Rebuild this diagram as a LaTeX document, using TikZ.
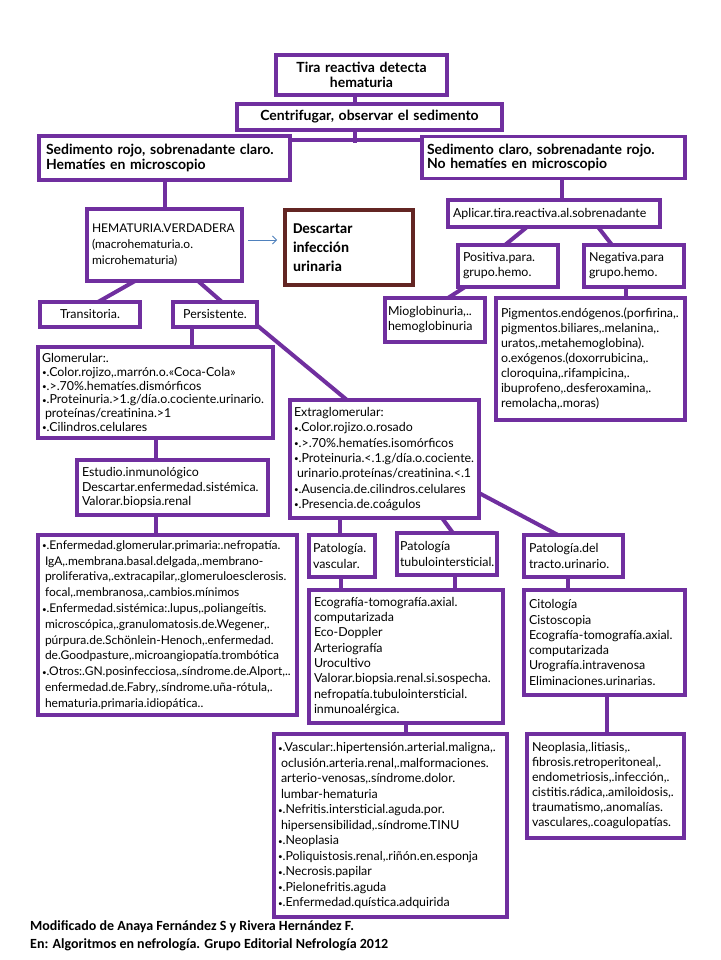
\documentclass[tikz,border=0pt]{standalone}
\usepackage{fontspec}
\setmainfont{Lato}
\newfontfamily\calib{Carlito}
\usetikzlibrary{backgrounds,arrows.meta}
\definecolor{pur}{HTML}{702F9F}
\definecolor{maroon}{HTML}{632523}
\definecolor{arrblue}{HTML}{4F81BD}
\newcommand\fs[1]{\fontsize{12.4}{#1}\selectfont}
\newcommand\bodyf{\fs{15.3}}
\newcommand\headf{\bfseries\fontsize{14}{14.5}\selectfont}
\newcommand\bul{{\fontsize{8}{8}\selectfont\raisebox{0.5pt}{•}}.}
\newcommand\ind{\hspace*{3pt}}
\tikzset{
  box/.style={draw=pur, line width=3.1pt, fill=white, inner sep=0pt, outer sep=0pt, font=\bodyf, align=left,
    execute at begin node={\hyphenpenalty=10000\exhyphenpenalty=10000\hbadness=10000\hfuzz=50pt}},
  hbox/.style={box, font=\headf},
  conn/.style={draw=pur, line width=4pt, shorten <=-3pt, shorten >=-3pt},
  arr/.style={draw=arrblue, line width=0.8pt, -{Straight Barb[length=4pt,width=8pt]}}
}
\begin{document}
\begin{tikzpicture}[x=1pt,y=-1pt]
\useasboundingbox (0,0) rectangle (720,960);

% top
\node[hbox, align=center, minimum width=171pt, minimum height=40pt, text width=165pt] (tira) at (361.5,75) {Tira reactiva detecta\\hematuria};
\node[hbox, align=center, minimum width=265pt, minimum height=26pt, text width=259pt] (centr) at (369.5,117) {Centrifugar, observar el sedimento};
\node[hbox, minimum width=251pt, minimum height=44pt, text width=237pt] (sedrojo) at (164.5,158) {Sedimento rojo, sobrenadante claro.\\Hematíes en microscopio};
\node[hbox, minimum width=263pt, minimum height=42pt, text width=253pt] (sedclaro) at (553.5,157.5) {Sedimento claro, sobrenadante rojo.\\No hematíes en microscopio};

% left branch
\node[box, font=\fontsize{12}{16.3}\selectfont, minimum width=155pt, minimum height=72pt, text width=145pt] (hemat) at (164.5,245) {HEMATURIA.VERDADERA\\(macrohematuria.o.\\microhematuria)};
\node[box, draw=maroon, font=\calib\bfseries\fontsize{15}{19}\selectfont, minimum width=128pt, minimum height=75pt, text width=112pt] (descartar) at (349,247.5) {Descartar\\infección\\urinaria};
\node[box, align=center, minimum width=100pt, minimum height=25pt, text width=94pt] (trans) at (90,314.5) {Transitoria.};
\node[box, align=center, minimum width=84pt, minimum height=25pt, text width=78pt] (pers) at (215,314.5) {Persistente.};

% right branch
\node[box, minimum width=212pt, minimum height=27pt, text width=202pt] (aplicar) at (554,213.5) {Aplicar.tira.reactiva.al.sobrenadante};
\node[box, font=\fs{15}, minimum width=100pt, minimum height=42pt, text width=90pt] (positiva) at (508,266) {Positiva.para.\\grupo.hemo.};
\node[box, font=\fs{15}, minimum width=100pt, minimum height=42pt, text width=90pt] (negativa) at (634,266) {Negativa.para\\grupo.hemo.};
\node[box, font=\fs{15}, minimum width=100pt, minimum height=44pt, text width=94pt] (mioglo) at (435,320) {Mioglobinuria,..\\hemoglobinuria};
\node[box, font=\fs{15}, minimum width=189pt, minimum height=122pt, text width=179pt] (pigm) at (590.5,359) {Pigmentos.endógenos.(porfirina,.\\pigmentos.biliares,.melanina,.\\uratos,.metahemoglobina).\\o.exógenos.(doxorrubicina,.\\cloroquina,.rifampicina,.\\ibuprofeno,.desferoxamina,.\\remolacha,.moras)};

% glomerular
\node[box, font=\fs{13.7}, minimum width=235pt, minimum height=91pt, text width=227pt] (glom) at (155.5,392.5) {Glomerular:.\\\bul Color.rojizo,.marrón.o.«Coca-Cola»\\\bul >.70\%.hematíes.dismórficos\\\bul Proteinuria.>1.g/día.o.cociente.urinario.\\\ind proteínas/creatinina.>1\\\bul Cilindros.celulares};
\node[box, font=\fs{14.2}, minimum width=191pt, minimum height=55pt, text width=181pt] (estudio) at (172.5,487.5) {Estudio.inmunológico\\Descartar.enfermedad.sistémica.\\Valorar.biopsia.renal};
\node[box, font=\fontsize{12}{15.8}\selectfont, minimum width=259pt, minimum height=180pt, text width=251pt] (enf) at (167.5,625) {\bul Enfermedad.glomerular.primaria:.nefropatía.\\\ind IgA,.membrana.basal.delgada,.membrano-\\\ind proliferativa,.extracapilar,.glomeruloesclerosis.\\\ind focal,.membranosa,.cambios.mínimos\\\bul Enfermedad.sistémica:.lupus,.poliangeítis.\\\ind microscópica,.granulomatosis.de.Wegener,.\\\ind púrpura.de.Schönlein-Henoch,.enfermedad.\\\ind de.Goodpasture,.microangiopatía.trombótica\\\bul Otros:.GN.posinfecciosa,.síndrome.de.Alport,..\\\ind enfermedad.de.Fabry,.síndrome.uña-rótula,.\\\ind hematuria.primaria.idiopática..};

% extraglomerular
\node[box, minimum width=189pt, minimum height=118pt, text width=181pt] (extra) at (384.5,459) {Extraglomerular:\\\bul Color.rojizo.o.rosado\\\bul >.70\%.hematíes.isomórficos\\\bul Proteinuria.<.1.g/día.o.cociente.\\\ind urinario.proteínas/creatinina.<.1\\\bul Ausencia.de.cilindros.celulares\\\bul Presencia.de.coágulos};
\node[box, minimum width=66pt, minimum height=42pt, text width=58pt] (patvasc) at (342,556) {Patología.\\vascular.};
\node[box, minimum width=100pt, minimum height=42pt, text width=94pt] (pattub) at (447,554) {Patología\\tubulointersticial.};
\node[box, minimum width=99pt, minimum height=42pt, text width=89pt] (pattract) at (573.5,556) {Patología.del\\tracto.urinario.};
\node[box, minimum width=194pt, minimum height=133pt, text width=184pt] (eco) at (406,656.5) {Ecografía-tomografía.axial.\\computarizada\\Eco-Doppler\\Arteriografía\\Urocultivo\\Valorar.biopsia.renal.si.sospecha.\\nefropatía.tubulointersticial.\\inmunoalérgica.};
\node[box, minimum width=161pt, minimum height=105pt, text width=151pt] (cito) at (604.5,642.5) {Citología\\Cistoscopia\\Ecografía-tomografía.axial.\\computarizada\\Urografía.intravenosa\\Eliminaciones.urinarias.};
\node[box, font=\fs{15.5}, minimum width=233pt, minimum height=183pt, text width=225pt] (vascular) at (390.5,825.5) {\bul Vascular:.hipertensión.arterial.maligna,.\\\ind oclusión.arteria.renal,.malformaciones.\\\ind arterio-venosas,.síndrome.dolor.\\\ind lumbar-hematuria\\\bul Nefritis.intersticial.aguda.por.\\\ind hipersensibilidad,.síndrome.TINU\\\bul Neoplasia\\\bul Poliquistosis.renal,.riñón.en.esponja\\\bul Necrosis.papilar\\\bul Pielonefritis.aguda\\\bul Enfermedad.quística.adquirida};
\node[box, font=\fs{15}, minimum width=157pt, minimum height=104pt, text width=147pt] (neo) at (605.5,786) {Neoplasia,.litiasis,.\\fibrosis.retroperitoneal,.\\endometriosis,.infección,.\\cistitis.rádica,.amiloidosis,.\\traumatismo,.anomalías.\\vasculares,.coagulopatías.};

% footer
\node[anchor=north west, inner sep=0pt, align=left, font=\calib\bfseries\fontsize{14}{18}\selectfont] (footer) at (30,920) {Modificado de Anaya Fernández S y Rivera Hernández F.\\En: Algoritmos en nefrología. Grupo Editorial Nefrología 2012};

% connectors
\coordinate (bar) at ([yshift=-4pt]sedrojo.north east);
\begin{scope}[on background layer]
\fill[white] (0,0) rectangle (720,960);
\draw[conn] ([xshift=-6.5pt]tira.south) -- ([xshift=-6.5pt]tira.south |- centr.north);
\draw[conn] ([xshift=-14.5pt]centr.south) -- ([xshift=-14.5pt]centr.south |- bar);
\draw[conn] (bar) -- (bar -| sedclaro.west);
\draw[conn] (sedrojo.south) -- (hemat.north);
\draw[conn] ([xshift=48pt]hemat.south west) -- ([xshift=58pt]trans.north west);
\draw[conn] ([xshift=111pt]hemat.south west) -- ([xshift=49pt]pers.north west);
\draw[conn] ([xshift=8.5pt]sedclaro.south) -- ([xshift=8.5pt]sedclaro.south |- aplicar.north);
\draw[conn] ([xshift=79pt]aplicar.south west) -- ([xshift=47pt]positiva.north west);
\draw[conn] ([xshift=150pt]aplicar.south west) -- ([xshift=28pt]negativa.north west);
\draw[conn] ([xshift=7pt]positiva.south west) -- ([xshift=63pt]mioglo.north west);
\draw[conn] ([xshift=42pt]negativa.south west) -- ([xshift=42pt]negativa.south west |- pigm.north);
\draw[conn] ([xshift=19pt]pers.south west) -- ([xshift=19pt]pers.south west |- glom.north);
\draw[conn] ([xshift=2pt]pers.south east) -- ([xshift=57pt]extra.north west);
\draw[conn] ([xshift=118pt]glom.south west) -- ([xshift=118pt]glom.south west |- estudio.north);
\draw[conn] ([xshift=79pt]estudio.south west) -- ([xshift=79pt]estudio.south west |- enf.north);
\draw[conn] ([xshift=50pt]extra.south west) -- ([xshift=50pt]extra.south west |- patvasc.north);
\draw[conn] ([xshift=152pt]extra.south west) -- ([xshift=56pt]pattub.north west);
\draw[conn] ([yshift=-93pt]extra.north east) -- ([xshift=34pt]pattract.north west);
\draw[conn] ([xshift=32pt]patvasc.south west) -- ([xshift=32pt]patvasc.south west |- eco.north);
\draw[conn] ([xshift=58pt]pattub.south west) -- ([xshift=58pt]pattub.south west |- eco.north);
\draw[conn] ([xshift=44pt]pattract.south west) -- ([xshift=44pt]pattract.south west |- cito.north);
\draw[conn] ([xshift=97pt]eco.south west) -- ([xshift=97pt]eco.south west |- vascular.north);
\draw[conn] ([xshift=83pt]cito.south west) -- ([xshift=83pt]cito.south west |- neo.north);
\end{scope}
\draw[arr] ([xshift=6pt,yshift=5pt]hemat.east) -- ([xshift=-8pt,yshift=7.5pt]descartar.west);
\end{tikzpicture}
\end{document}
